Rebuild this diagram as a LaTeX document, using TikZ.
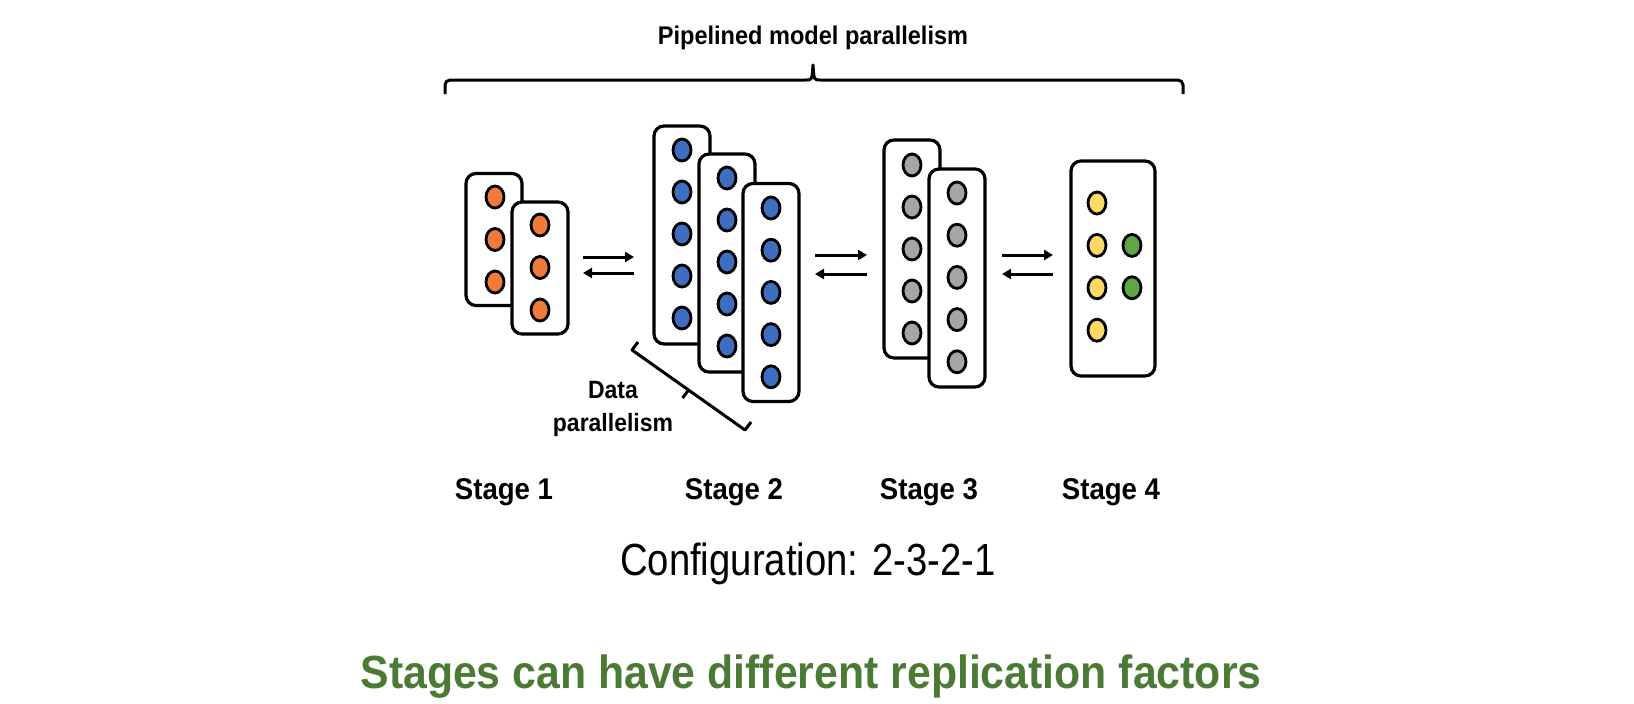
\documentclass[tikz,border=0pt]{standalone}
\usepackage{fontspec}
\setmainfont{Liberation Sans}
\newfontfamily\labelfont{Liberation Sans}[FakeStretch=0.92]
\newfontfamily\configfont{Liberation Sans}[FakeStretch=0.85]
\usepackage{tikz}
\usetikzlibrary{arrows.meta,shapes.geometric}

\definecolor{orangedot}{HTML}{F07A3A}
\definecolor{bluedot}{HTML}{3F6EC0}
\definecolor{graydot}{HTML}{A6A5A5}
\definecolor{yellowdot}{HTML}{FFD966}
\definecolor{greendot}{HTML}{5EA646}
\definecolor{slogan}{HTML}{4A7A33}

\begin{document}
\begin{tikzpicture}[x=1pt, y=-1pt, >={Triangle[length=9pt,width=10pt]}, semithick,
		layer/.style={draw, line width=3.2pt, rounded corners=10pt, fill=white, minimum width=56pt, inner sep=0pt},
		dot/.style={ellipse, draw, line width=2.8pt, minimum width=18pt, minimum height=22pt, inner sep=0pt},
		flow/.style={->, line width=3pt},
		bracket/.style={line width=3pt, line join=round},
		boldtext/.style={anchor=base, font={\labelfont\bfseries\fontsize{#1}{#1}\selectfont}}]
	\useasboundingbox (0,0) rectangle (1634,704);

	% Stage 1
	\node[layer, minimum height=132pt] (s1a) at (494,239.5) {};
	\foreach \i in {0,1,2}
		\node[dot, fill=orangedot] (s1a-\i) at (495,{197+42.5*\i}) {};
	\node[layer, minimum height=132pt] (s1b) at (540,268) {};
	\foreach \i in {0,1,2}
		\node[dot, fill=orangedot] (s1b-\i) at (540,{225+42.5*\i}) {};

	% Stage 2
	\node[layer, minimum height=218pt] (s2a) at (682,235) {};
	\foreach \i in {0,...,4}
		\node[dot, fill=bluedot] (s2a-\i) at (682,{150+42*\i}) {};
	\node[layer, minimum height=218pt] (s2b) at (727,263) {};
	\foreach \i in {0,...,4}
		\node[dot, fill=bluedot] (s2b-\i) at (727,{178+42*\i}) {};
	\node[layer, minimum height=218pt] (s2c) at (771,292.5) {};
	\foreach \i in {0,...,4}
		\node[dot, fill=bluedot] (s2c-\i) at (771,{208+42.2*\i}) {};

	% Stage 3
	\node[layer, minimum height=218pt] (s3a) at (912,249) {};
	\foreach \i in {0,...,4}
		\node[dot, fill=graydot] (s3a-\i) at (912,{165+42*\i}) {};
	\node[layer, minimum height=218pt] (s3b) at (957,278) {};
	\foreach \i in {0,...,4}
		\node[dot, fill=graydot] (s3b-\i) at (957,{193+42.2*\i}) {};

	% Stage 4
	\node[layer, minimum width=84pt, minimum height=215pt] (s4) at (1113,268.5) {};
	\foreach \i in {0,...,3}
		\node[dot, fill=yellowdot] (s4y-\i) at (1097,{203+42.4*\i}) {};
	\foreach \i in {1,2}
		\node[dot, fill=greendot] (s4g-\i) at (1132,{203+42.4*\i}) {};

	% arrows between stages
	\coordinate (a1l) at (583,257); \coordinate (a1r) at (634,257);
	\coordinate (b1l) at (583,273); \coordinate (b1r) at (634,273);
	\coordinate (a2l) at (815,255); \coordinate (a2r) at (867,255);
	\coordinate (b2l) at (815,274); \coordinate (b2r) at (867,274);
	\coordinate (a3l) at (1002,255); \coordinate (a3r) at (1053,255);
	\coordinate (b3l) at (1002,274); \coordinate (b3r) at (1053,274);
	\foreach \k in {1,2,3} {
		\draw[flow] (a\k l) -- (a\k r);
		\draw[flow] (b\k r) -- (b\k l);
	}

	% pipeline brace
	\coordinate (pl) at (445,94);
	\coordinate (pr) at (1183,94);
	\coordinate (ptip) at (813,65);
	\draw[bracket, rounded corners=5pt] (pl) |- (806,80);
	\draw[bracket] (806,80) .. controls (812,80) .. (ptip) .. controls (814,80) .. (820,80);
	\draw[bracket, rounded corners=5pt] (820,80) -| (pr);
	\node[boldtext=25.6] (ptitle) at (813,45) {Pipelined model parallelism};

	% data parallelism bracket
	\coordinate (dA) at (632,350); \coordinate (dAt) at (638,342);
	\coordinate (dB) at (745,430); \coordinate (dBt) at (751,422);
	\coordinate (dM) at (688.5,390); \coordinate (dMt) at (682.5,398);
	\draw[bracket] (dAt) -- (dA) -- (dB) -- (dBt);
	\draw[bracket] (dM) -- (dMt);
	\node[boldtext=25] (dtext1) at (613,398) {Data};
	\node[boldtext=25] (dtext2) at (613,431) {parallelism};

	% labels
	\node[boldtext=30] (l1) at (504,499) {Stage 1};
	\node[boldtext=30] (l2) at (734,499) {Stage 2};
	\node[boldtext=30] (l3) at (929,499) {Stage 3};
	\node[boldtext=30] (l4) at (1111,499) {Stage 4};
	\node[anchor=base, font={\configfont\fontsize{45}{45}\selectfont}] (config) at (808,575) {Configuration: 2-3-2-1};
	\node[boldtext=46.5, text=slogan] (slogan) at (811,688) {Stages can have different replication factors};
\end{tikzpicture}
\end{document}
